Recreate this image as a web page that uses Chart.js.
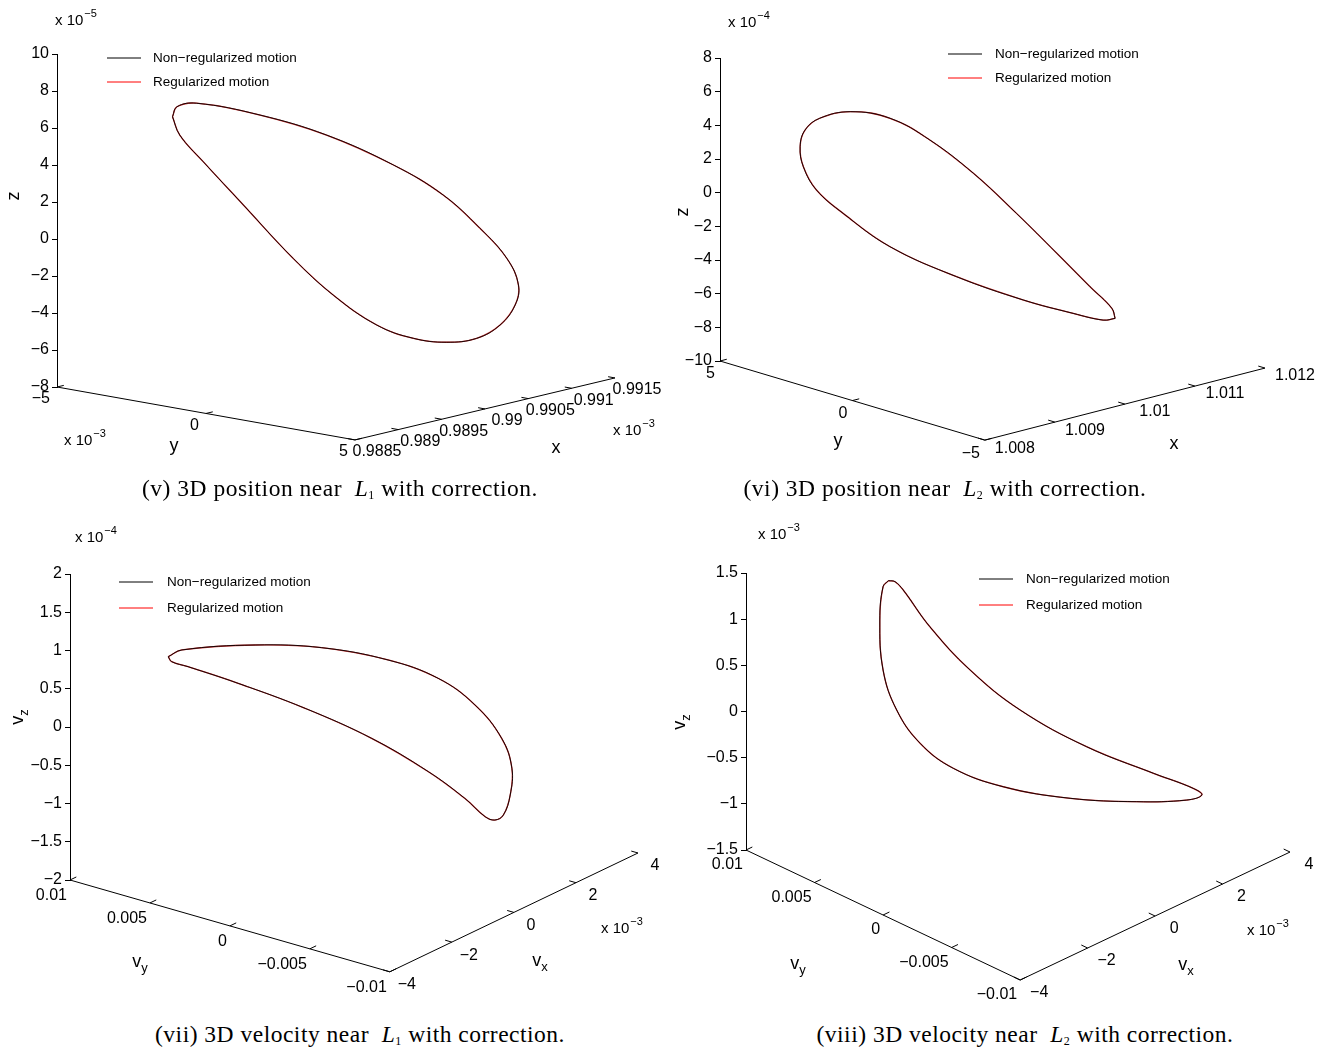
<!DOCTYPE html>
<html>
<head>
<meta charset="utf-8">
<script src="https://cdn.jsdelivr.net/npm/chart.js@4.4.1/dist/chart.umd.min.js"></script>
<style>
  body { margin: 0; background: #fff; width: 1330px; height: 1054px; position: relative; overflow: hidden; }
  canvas { position: absolute; }
  .cap { position: absolute; font-family: "Liberation Serif", "Times New Roman", serif; font-size: 23.5px;
         letter-spacing: 0.5px; line-height: 28px; white-space: nowrap; transform: translateX(-50%); color: #000; }
  .cap sub { font-size: 12px; vertical-align: -3px; }
</style>
</head>
<body>
<canvas id="c5" width="665" height="470" style="left:0;top:0"></canvas>
<canvas id="c6" width="665" height="470" style="left:665px;top:0"></canvas>
<canvas id="c7" width="665" height="500" style="left:0;top:505px"></canvas>
<canvas id="c8" width="665" height="500" style="left:665px;top:505px"></canvas>

<div class="cap" style="left:340px;top:474px">(v) 3D position near&nbsp; <i>L</i><sub>1</sub> with correction.</div>
<div class="cap" style="left:945px;top:474px">(vi) 3D position near&nbsp; <i>L</i><sub>2</sub> with correction.</div>
<div class="cap" style="left:360px;top:1020px">(vii) 3D velocity near&nbsp; <i>L</i><sub>1</sub> with correction.</div>
<div class="cap" style="left:1025px;top:1020px">(viii) 3D velocity near&nbsp; <i>L</i><sub>2</sub> with correction.</div>

<script>
const FONT = '"Liberation Sans", Arial, Helvetica, sans-serif';
const legendLabels = ["Non\u2212regularized motion", "Regularized motion"];

// loops: h = horizontal position in % of the box width,
// z = apparent height read on the vertical axis

// (v) position near L1, z in 1e-5
const posL1_h = [20.7, 21.5, 25.0, 36.4, 48.3, 60.3, 69.2, 75.8, 80.6, 82.7, 82.1, 79.4, 75.2, 69.8, 63.9, 57.3, 49.5, 42.3, 33.4, 26.2, 22.0];
const posL1_z = [6.61, 7.15, 7.34, 6.70, 5.62, 4.00, 2.38, 0.58, -1.04, -2.49, -3.57, -4.65, -5.37, -5.58, -5.37, -4.65, -3.03, -1.04, 1.84, 4.18, 5.62];
const posL1_zTicks = [-8, -6, -4, -2, 0, 2, 4, 6, 8, 10];
const posL1_yTicks = ["\u22125", "0", "5"];
const posL1_xTicks = ["0.9885", "0.989", "0.9895", "0.99", "0.9905", "0.991", "0.9915"];

// (vi) position near L2, z in 1e-4
const posL2_h = [72.5, 70.3, 64.8, 55.7, 43.4, 31.2, 22.6, 17.7, 15.3, 14.7, 15.6, 18.3, 23.9, 31.2, 38.5, 46.5, 54.4, 61.8, 67.9, 71.9];
const posL2_z = [-7.47, -7.57, -7.17, -6.38, -4.99, -3.21, -1.23, 0.16, 1.54, 2.73, 3.72, 4.42, 4.81, 4.42, 3.13, 1.15, -1.23, -3.60, -5.59, -6.87];
const posL2_zTicks = [-10, -8, -6, -4, -2, 0, 2, 4, 6, 8];
const posL2_yTicks = ["5", "0", "\u22125"];
const posL2_xTicks = ["1.008", "1.009", "1.01", "1.011", "1.012"];

// (vii) velocity near L1, vz in 1e-4
const velL1_h = [17.3, 19.7, 32.6, 44.3, 56.0, 64.8, 71.3, 76.0, 77.8, 77.5, 76.3, 74.8, 73.1, 69.5, 63.1, 53.1, 41.4, 29.6, 20.8, 17.9];
const velL1_z = [0.919, 1.007, 1.072, 1.037, 0.876, 0.637, 0.288, -0.148, -0.540, -0.889, -1.150, -1.216, -1.173, -0.932, -0.584, -0.148, 0.244, 0.571, 0.788, 0.854];
const velL1_zTicks = [-2, -1.5, -1, -0.5, 0, 0.5, 1, 1.5, 2];
const velL1_yTicks = ["0.01", "0.005", "0", "\u22120.005", "\u22120.01"];
const velL1_xTicks = ["\u22124", "\u22122", "0", "2", "4"];

// (viii) velocity near L2, vz in 1e-3
const velL2_h = [26.2, 25.2, 24.6, 25.2, 27.7, 32.0, 38.1, 47.3, 59.6, 71.8, 81.0, 83.8, 82.2, 74.9, 62.6, 50.4, 41.2, 33.8, 28.9, 27.4];
const velL2_z = [1.417, 1.352, 0.991, 0.449, 0.016, -0.344, -0.615, -0.815, -0.940, -0.977, -0.959, -0.904, -0.832, -0.669, -0.381, 0.016, 0.449, 0.918, 1.316, 1.406];
const velL2_zTicks = [-1.5, -1, -0.5, 0, 0.5, 1, 1.5];
const velL2_yTicks = ["0.01", "0.005", "0", "\u22120.005", "\u22120.01"];
const velL2_xTicks = ["\u22124", "\u22122", "0", "2", "4"];

const fmt = v => String(v).replace('-', '\u2212');

// closed loop: repeat the first point at the end
function loop(h, z) {
  const pts = h.map((v, i) => ({ x: v, y: z[i] }));
  pts.push({ x: h[0], y: z[0] });
  return pts;
}

// text with optional subscript / superscript, align 'left' or 'center'
function richText(ctx, x, y, main, size, sub, sup, align) {
  ctx.font = size + 'px ' + FONT;
  const w1 = ctx.measureText(main).width;
  const small = Math.round(size * 0.72);
  ctx.font = small + 'px ' + FONT;
  const w2 = ctx.measureText(sub || sup || '').width;
  let x0 = align === 'center' ? x - (w1 + w2) / 2 : x;
  ctx.textAlign = 'left';
  ctx.textBaseline = 'middle';
  ctx.fillStyle = '#000';
  ctx.font = size + 'px ' + FONT;
  ctx.fillText(main, x0, y);
  ctx.font = small + 'px ' + FONT;
  if (sub) ctx.fillText(sub, x0 + w1, y + size * 0.35);
  if (sup) ctx.fillText(sup, x0 + w1 + 1, y - size * 0.45);
}

// floor axes of the 3D box, legend and labels
const frame3d = {
  id: 'frame3d',
  afterDraw(chart, args, o) {
    const { ctx, scales: { x, y } } = chart;
    const P = p => [x.getPixelForValue(p[0]), y.getPixelForValue(p[1])];
    const A = P(o.corners[0]), B = P(o.corners[1]), C = P(o.corners[2]);
    const unit = (p, q) => { const dx = q[0] - p[0], dy = q[1] - p[1], l = Math.hypot(dx, dy); return [dx / l, dy / l]; };
    const uBC = unit(B, C), uBA = unit(B, A);
    const lerp = (p, q, t) => [p[0] + (q[0] - p[0]) * t, p[1] + (q[1] - p[1]) * t];

    ctx.save();
    ctx.strokeStyle = '#000';
    ctx.lineWidth = 1;
    ctx.beginPath();
    ctx.moveTo(A[0], A[1]); ctx.lineTo(B[0], B[1]); ctx.lineTo(C[0], C[1]);
    ctx.stroke();

    ctx.font = '16px ' + FONT;
    ctx.fillStyle = '#000';
    ctx.textBaseline = 'middle';
    o.yTicks.forEach((lab, i) => {
      const p = lerp(A, B, i / (o.yTicks.length - 1));
      ctx.beginPath(); ctx.moveTo(p[0], p[1]); ctx.lineTo(p[0] + uBC[0] * 7, p[1] + uBC[1] * 7); ctx.stroke();
      ctx.textAlign = 'right';
      ctx.fillText(lab, p[0] + o.yOff[0], p[1] + o.yOff[1]);
    });
    o.xTicks.forEach((lab, i) => {
      const p = lerp(B, C, i / (o.xTicks.length - 1));
      ctx.beginPath(); ctx.moveTo(p[0], p[1]); ctx.lineTo(p[0] + uBA[0] * 7, p[1] + uBA[1] * 7); ctx.stroke();
      ctx.textAlign = 'center';
      ctx.fillText(lab, p[0] + o.xOff[0], p[1] + o.xOff[1]);
    });

    // axis titles
    richText(ctx, o.yTitle.at[0], o.yTitle.at[1], o.yTitle.text, 18, o.yTitle.sub, null, 'center');
    richText(ctx, o.xTitle.at[0], o.xTitle.at[1], o.xTitle.text, 18, o.xTitle.sub, null, 'center');
    ctx.save();
    ctx.translate(o.zTitle.at[0], o.zTitle.at[1]);
    ctx.rotate(-Math.PI / 2);
    richText(ctx, 0, 0, o.zTitle.text, 18, o.zTitle.sub, null, 'center');
    ctx.restore();

    // exponent labels
    o.exps.forEach(e => richText(ctx, e.at[0], e.at[1], 'x 10', 15, null, e.sup, 'left'));

    // legend
    const L = o.legend;
    chart.data.datasets.forEach((ds, i) => {
      const yy = L.y + i * L.gap;
      ctx.strokeStyle = o.legendColors[i];
      ctx.lineWidth = 1;
      ctx.beginPath(); ctx.moveTo(L.x, yy); ctx.lineTo(L.x + 34, yy); ctx.stroke();
      ctx.font = '13.5px ' + FONT;
      ctx.fillStyle = '#000';
      ctx.textAlign = 'left';
      ctx.textBaseline = 'middle';
      ctx.fillText(ds.label, L.textX, yy);
    });
    ctx.restore();
  }
};

function makePanel(id, cfg) {
  const pts = loop(cfg.h, cfg.z);
  return new Chart(document.getElementById(id), {
    type: 'scatter',
    data: {
      datasets: [
        { label: legendLabels[0], data: pts, showLine: true, borderColor: '#000', borderWidth: 0.9, pointRadius: 0, tension: 0.4 },
        { label: legendLabels[1], data: pts, showLine: true, borderColor: 'rgba(190,12,12,0.88)', borderWidth: 1.3, pointRadius: 0, tension: 0.4 }
      ]
    },
    options: {
      responsive: false,
      animation: false,
      devicePixelRatio: 1,
      layout: { padding: cfg.pad },
      scales: {
        x: { type: 'linear', display: false, min: 0, max: 100 },
        y: {
          type: 'linear',
          min: cfg.zTicks[0],
          max: cfg.zTicks[cfg.zTicks.length - 1],
          afterFit: s => { s.width = cfg.axisLeft; },
          afterBuildTicks: s => { s.ticks = cfg.zTicks.map(v => ({ value: v })); },
          ticks: { callback: v => fmt(v), color: '#000', font: { family: FONT, size: 16 }, padding: 3 },
          grid: { display: true, drawOnChartArea: false, drawTicks: true, tickLength: 5, color: '#000' },
          border: { display: true, color: '#000', width: 1 }
        }
      },
      plugins: { legend: { display: false }, tooltip: { enabled: false }, frame3d: cfg.frame }
    },
    plugins: [frame3d]
  });
}

const legendColors = ['#000', '#ff0000'];

makePanel('c5', {
  h: posL1_h, z: posL1_z, zTicks: posL1_zTicks, axisLeft: 57,
  pad: { top: 54, right: 50, bottom: 83, left: 0 },
  frame: {
    corners: [[0, -8], [53.4, -10.86], [100, -7.51]],
    yTicks: posL1_yTicks, xTicks: posL1_xTicks, yOff: [-7, 12], xOff: [22, 12],
    yTitle: { text: 'y', at: [174, 446] }, xTitle: { text: 'x', at: [556, 448] },
    zTitle: { text: 'z', at: [14, 196] },
    exps: [{ at: [55, 21], sup: '\u22125' }, { at: [64, 441], sup: '\u22123' }, { at: [613, 431], sup: '\u22123' }],
    legend: { x: 107, y: 58, gap: 24, textX: 153 }, legendColors
  }
});

makePanel('c6', {
  h: posL2_h, z: posL2_z, zTicks: posL2_zTicks, axisLeft: 55,
  pad: { top: 58, right: 65, bottom: 109, left: 0 },
  frame: {
    corners: [[0, -10], [48.6, -14.7], [100, -10.42]],
    yTicks: posL2_yTicks, xTicks: posL2_xTicks, yOff: [-5, 13], xOff: [30, 8],
    yTitle: { text: 'y', at: [173, 441] }, xTitle: { text: 'x', at: [509, 444] },
    zTitle: { text: 'z', at: [18, 212] },
    exps: [{ at: [63, 23], sup: '\u22124' }],
    legend: { x: 283, y: 54, gap: 24, textX: 330 }, legendColors
  }
});

makePanel('c7', {
  h: velL1_h, z: velL1_z, zTicks: velL1_zTicks, axisLeft: 70,
  pad: { top: 69, right: 27, bottom: 125, left: 0 },
  frame: {
    corners: [[0, -2], [56.3, -3.2], [100, -1.647]],
    yTicks: velL1_yTicks, xTicks: velL1_xTicks, yOff: [-3, 16], xOff: [17, 13],
    yTitle: { text: 'v', sub: 'y', at: [140, 457] }, xTitle: { text: 'v', sub: 'x', at: [540, 456] },
    zTitle: { text: 'v', sub: 'z', at: [18, 212] },
    exps: [{ at: [75, 33], sup: '\u22124' }, { at: [601, 424], sup: '\u22123' }],
    legend: { x: 119, y: 77, gap: 26, textX: 167 }, legendColors
  }
});

makePanel('c8', {
  h: velL2_h, z: velL2_z, zTicks: velL2_zTicks, axisLeft: 81,
  pad: { top: 68, right: 40, bottom: 155, left: 0 },
  frame: {
    corners: [[0, -1.5], [50.4, -2.908], [100, -1.522]],
    yTicks: velL2_yTicks, xTicks: velL2_xTicks, yOff: [-3, 15], xOff: [19, 13],
    yTitle: { text: 'v', sub: 'y', at: [133, 459] }, xTitle: { text: 'v', sub: 'x', at: [521, 460] },
    zTitle: { text: 'v', sub: 'z', at: [15, 217] },
    exps: [{ at: [93, 30], sup: '\u22123' }, { at: [582, 426], sup: '\u22123' }],
    legend: { x: 314, y: 74, gap: 26, textX: 361 }, legendColors
  }
});
</script>
</body>
</html>
